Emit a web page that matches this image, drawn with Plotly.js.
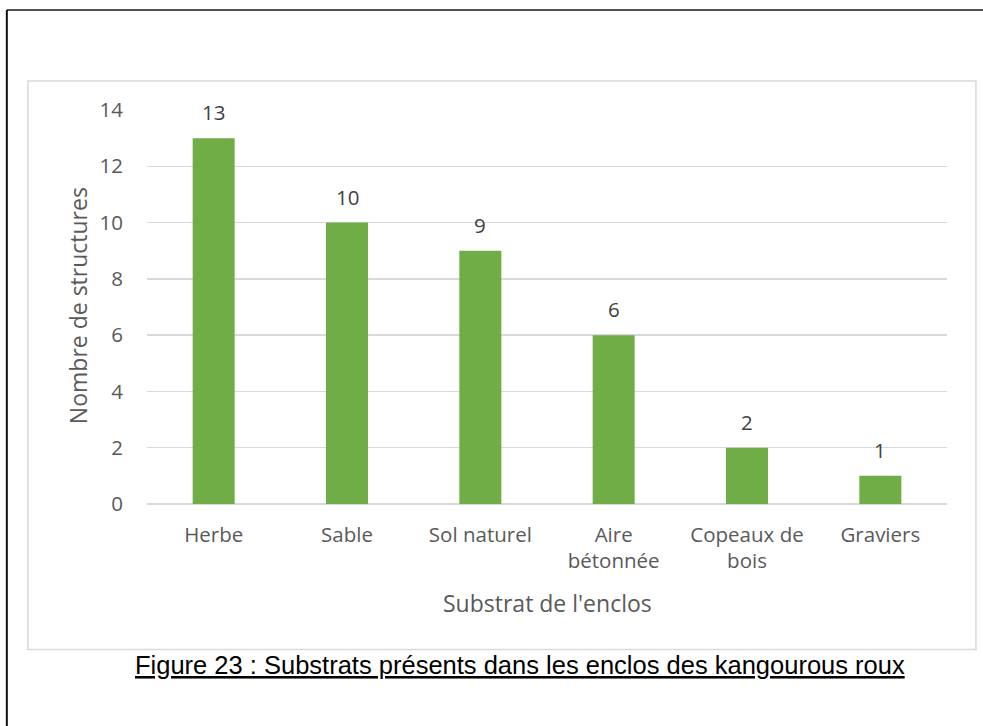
<!DOCTYPE html>
<html>
<head>
<meta charset="utf-8">
<script src="https://cdn.plot.ly/plotly-3.0.1.min.js"></script>
<style>html,body{margin:0;padding:0;background:#fff;}</style>
</head>
<body>
<div id="chart" style="width:983px;height:726px;"></div>
<script>
const categories = ["Herbe", "Sable", "Sol naturel", "Aire<br>bétonnée", "Copeaux de<br>bois", "Graviers"];
const values = [13, 10, 9, 6, 2, 1];
const yTitle = "Nombre de structures";
const xTitle = "Substrat de l'enclos";
const figTitle = "Figure 23 : Substrats présents dans les enclos des kangourous roux";

const FONT = "Open Sans, Lato, sans-serif";
const GREY = "#595959";

const labelAnnotations = categories.map((c, i) => ({
  x: c, y: values[i], xref: "x", yref: "y",
  text: String(values[i]), showarrow: false,
  yanchor: "bottom", yshift: 10,
  font: {family: FONT, size: 20.5, color: "#404040"}
}));

const data = [{
  type: "bar",
  x: categories,
  y: values,
  marker: {color: "#70ad47"},
  hoverinfo: "x+y"
}];

const layout = {
  width: 983, height: 726,
  margin: {l: 146.7, r: 36, t: 110, b: 221.7, pad: 0},
  paper_bgcolor: "#fff", plot_bgcolor: "#fff",
  bargap: 0.685,
  showlegend: false,
  font: {family: FONT, color: GREY, size: 20.5},
  xaxis: {
    type: "category",
    showgrid: false, zeroline: false, showline: false,
    ticks: "", ticklabelstandoff: 16,
    tickfont: {family: FONT, size: 20.5, color: GREY},
    fixedrange: true
  },
  yaxis: {
    range: [0, 14], dtick: 2, tick0: 0,
    showgrid: true, gridcolor: "#d9d9d9", gridwidth: 1.3,
    zeroline: true, zerolinecolor: "#d9d9d9", zerolinewidth: 1.3,
    showline: false, ticks: "", ticklabelstandoff: 23,
    tickfont: {family: FONT, size: 20.5, color: GREY},
    fixedrange: true
  },
  shapes: [
    {type: "rect", xref: "paper", yref: "paper", x0: -0.1489, x1: 1.0362, y0: -0.3695, y1: 1.0735,
     line: {color: "#d9d9d9", width: 1.5}, layer: "below"},
    {type: "line", xref: "paper", yref: "paper", x0: -0.1752, x1: 1.06, y0: 1.2536, y1: 1.2536,
     line: {color: "#505050", width: 2}},
    {type: "line", xref: "paper", yref: "paper", x0: -0.1752, x1: -0.1752, y0: -0.58, y1: 1.2536,
     line: {color: "#111111", width: 2}}
  ],
  annotations: labelAnnotations.concat([
    {xref: "paper", yref: "paper", x: -0.0871, y: 0.503, text: yTitle, textangle: -90,
     showarrow: false, xanchor: "center", yanchor: "middle",
     font: {family: FONT, size: 23, color: GREY}},
    {xref: "paper", yref: "paper", x: 0.5, y: -0.2503, text: xTitle,
     showarrow: false, xanchor: "center", yanchor: "middle",
     font: {family: FONT, size: 23, color: GREY}},
    {xref: "paper", yref: "paper", x: 0.4665, y: -0.4074, text: figTitle,
     showarrow: false, xanchor: "center", yanchor: "middle",
     font: {family: "Liberation Sans, Arial, sans-serif", size: 25.5, color: "#000000", lineposition: "under"}}
  ])
};

Plotly.newPlot("chart", data, layout, {displayModeBar: false, staticPlot: true});
</script>
</body>
</html>
